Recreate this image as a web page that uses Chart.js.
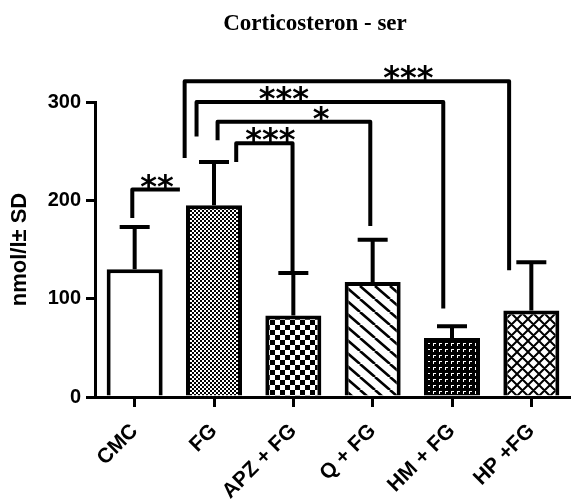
<!DOCTYPE html>
<html>
<head>
<meta charset="utf-8">
<script src="https://cdn.jsdelivr.net/npm/chart.js@4.4.1/dist/chart.umd.min.js"></script>
<style>
  html, body { margin: 0; padding: 0; background: #fff; }
  canvas { display: block; }
</style>
</head>
<body>
<canvas id="chart" width="571" height="500"></canvas>
<script>
// values
const categories = ['CMC', 'FG', 'APZ + FG', 'Q + FG', 'HM + FG', 'HP +FG'];
const means = [130, 195, 83, 117, 60, 88];
const sd = [43, 44, 43, 43, 12, 49];
const yTicks = [0, 100, 200, 300];

// significance brackets (x in category index units, y in nmol/l)
const sigLabels = ['**', '***', '*', '***', '***'];
const sigFrom = [-0.03, 1.28, 1.045, 0.78, 0.63];
const sigTo = [0.57, 1.99, 2.97, 3.89, 4.72];
const sigTop = [211, 258, 280, 300, 321];
const sigLeftEnd = [182, 239, 261, 265, 243];
const sigRightEnd = [null, 126, 174, 90, 129];
const sigLabelAt = [0.28, 1.71, 2.35, 1.88, 3.45];

function makePattern(w, h, draw) {
    const c = document.createElement('canvas');
    c.width = w;
    c.height = h;
    const g = c.getContext('2d');
    g.fillStyle = '#fff';
    g.fillRect(0, 0, w, h);
    g.fillStyle = '#000';
    g.strokeStyle = '#000';
    draw(g, w, h);
    return g.createPattern(c, 'repeat');
}

const patterns = [
    '#fff',
    // fine checker
    makePattern(4, 4, function (g) {
        g.fillRect(0, 0, 2, 2);
        g.fillRect(2, 2, 2, 2);
    }),
    // coarse checker
    makePattern(10, 10, function (g) {
        g.fillRect(0, 0, 5, 5);
        g.fillRect(5, 5, 5, 5);
    }),
    // diagonal hatch
    makePattern(15, 13, function (g, w, h) {
        g.lineWidth = 2.6;
        g.beginPath();
        [-w, 0, w].forEach(function (dx) {
            g.moveTo(dx, 0);
            g.lineTo(dx + w, h);
        });
        g.stroke();
    }),
    // dense dark
    makePattern(6, 6, function (g) {
        g.fillRect(0, 0, 6, 6);
        g.fillStyle = '#fff';
        g.fillRect(1, 1, 3, 1);
        g.fillRect(1, 2, 1, 2);
    }),
    // cross hatch
    makePattern(11, 11, function (g, w, h) {
        g.lineWidth = 2;
        g.beginPath();
        [-w, 0, w].forEach(function (dx) {
            g.moveTo(dx, 0);
            g.lineTo(dx + w, h);
            g.moveTo(dx + w, 0);
            g.lineTo(dx, h);
        });
        g.stroke();
    })
];

const titlePlugin = {
    id: 'plotTitle',
    afterDraw: function (chart) {
        const ctx = chart.ctx;
        ctx.save();
        ctx.fillStyle = '#000';
        ctx.font = 'bold 23px "Liberation Serif", "Times New Roman", serif';
        ctx.textAlign = 'center';
        ctx.textBaseline = 'alphabetic';
        ctx.fillText('Corticosteron - ser', 315, 30);
        ctx.restore();
    }
};

const errorBars = {
    id: 'errorBars',
    afterDatasetsDraw: function (chart) {
        const ctx = chart.ctx;
        const y = chart.scales.y;
        const meta = chart.getDatasetMeta(0);
        ctx.save();
        ctx.strokeStyle = '#000';
        ctx.lineWidth = 4;
        meta.data.forEach(function (bar, i) {
            const top = y.getPixelForValue(means[i] + sd[i]);
            const base = y.getPixelForValue(means[i]);
            ctx.beginPath();
            ctx.moveTo(bar.x, base);
            ctx.lineTo(bar.x, top);
            ctx.moveTo(bar.x - 15, top);
            ctx.lineTo(bar.x + 15, top);
            ctx.stroke();
        });
        ctx.restore();
    }
};

const brackets = {
    id: 'brackets',
    afterDatasetsDraw: function (chart) {
        const ctx = chart.ctx;
        const x = chart.scales.x;
        const y = chart.scales.y;
        ctx.save();
        ctx.strokeStyle = '#000';
        ctx.fillStyle = '#000';
        ctx.lineWidth = 4;
        ctx.lineJoin = 'round';
        ctx.font = 'bold 32px "DejaVu Sans", sans-serif';
        ctx.textAlign = 'center';
        ctx.textBaseline = 'alphabetic';
        sigLabels.forEach(function (label, i) {
            const xl = x.getPixelForValue(sigFrom[i]);
            const xr = x.getPixelForValue(sigTo[i]);
            const yt = y.getPixelForValue(sigTop[i]);
            ctx.beginPath();
            ctx.moveTo(xl, y.getPixelForValue(sigLeftEnd[i]));
            ctx.lineTo(xl, yt);
            ctx.lineTo(xr, yt);
            if (sigRightEnd[i] !== null) {
                ctx.lineTo(xr, y.getPixelForValue(sigRightEnd[i]));
            }
            ctx.stroke();
            ctx.fillText(label, x.getPixelForValue(sigLabelAt[i]), yt + 7);
        });
        ctx.restore();
    }
};

const axisFont = { family: '"Liberation Sans", Arial, sans-serif', size: 20, weight: 'bold' };

new Chart(document.getElementById('chart'), {
    type: 'bar',
    data: {
        labels: categories,
        datasets: [{
            data: means,
            backgroundColor: patterns,
            borderColor: '#000',
            borderWidth: 4,
            borderSkipped: 'start',
            barPercentage: 0.706,
            categoryPercentage: 1
        }]
    },
    options: {
        responsive: false,
        animation: false,
        devicePixelRatio: 1,
        layout: { padding: { top: 102, right: 0, left: 0, bottom: 0 } },
        plugins: {
            legend: { display: false },
            tooltip: { enabled: false }
        },
        scales: {
            x: {
                grid: {
                    display: true,
                    offset: false,
                    drawOnChartArea: false,
                    drawTicks: true,
                    tickLength: 10,
                    lineWidth: 3,
                    color: '#000'
                },
                border: { display: true, width: 3, color: '#000' },
                ticks: {
                    color: '#000',
                    font: { family: '"Liberation Sans", Arial, sans-serif', size: 21, weight: 'bold' },
                    minRotation: 45,
                    maxRotation: 45,
                    autoSkip: false,
                    padding: 12
                },
                afterFit: function (s) {
                    s.height = 103;
                    s.paddingLeft = 0;
                    s.paddingRight = 0;
                }
            },
            y: {
                min: 0,
                max: 300,
                afterBuildTicks: function (s) {
                    s.ticks = yTicks.map(function (v) { return { value: v }; });
                },
                grid: {
                    display: true,
                    drawOnChartArea: false,
                    drawTicks: true,
                    tickLength: 9,
                    lineWidth: 3,
                    color: '#000'
                },
                border: { display: true, width: 3, color: '#000' },
                ticks: {
                    color: '#000',
                    font: axisFont,
                    padding: 5
                },
                title: {
                    display: true,
                    text: 'nmol/l± SD',
                    color: '#000',
                    font: { family: '"Liberation Sans", Arial, sans-serif', size: 22, weight: 'bold' },
                    padding: { top: 7, bottom: 0 }
                },
                afterFit: function (s) {
                    s.width = 95;
                }
            }
        }
    },
    plugins: [titlePlugin, errorBars, brackets]
});
</script>
</body>
</html>
